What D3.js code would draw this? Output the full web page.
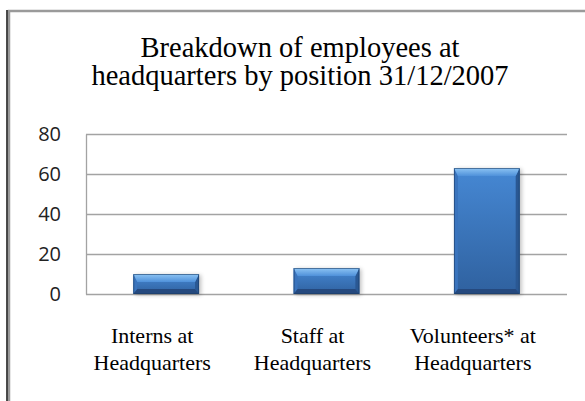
<!DOCTYPE html>
<html>
<head>
<meta charset="utf-8">
<script src="https://cdn.jsdelivr.net/npm/d3@7"></script>
<style>
  body { margin: 0; background: #fff; }
  svg { display: block; }
  .serif { font-family: 'Liberation Serif', 'Times New Roman', Times, serif; }
  .sans { font-family: 'Open Sans', 'Noto Sans', sans-serif; }
</style>
</head>
<body>
<svg id="chart" width="585" height="401"></svg>
<script>
'use strict';

var categories = [
  ['Interns at', 'Headquarters'],
  ['Staff at', 'Headquarters'],
  ['Volunteers* at', 'Headquarters']
];
var values = [10, 13, 63];
var yTicks = [0, 20, 40, 60, 80];
var titleLines = ['Breakdown of employees at', 'headquarters by position 31/12/2007'];

var svg = d3.select('#chart');
var margin = { top: 134, right: 18, bottom: 107, left: 86 };
var width = +svg.attr('width') - margin.left - margin.right,
    height = +svg.attr('height') - margin.top - margin.bottom;

// chart frame (only top and left edges show in the crop)
svg.append('rect')
  .attr('x', 9).attr('y', 11)
  .attr('width', 600).attr('height', 420)
  .attr('fill', 'none')
  .attr('stroke', '#9a9a9a')
  .attr('stroke-width', 2.5);
svg.append('line')
  .attr('x1', 7).attr('x2', 7)
  .attr('y1', 10).attr('y2', 401)
  .attr('stroke', '#111')
  .attr('stroke-width', 1.5);

var defs = svg.append('defs');
var body = defs.append('linearGradient').attr('id', 'barBody')
  .attr('x1', 0).attr('y1', 0).attr('x2', 0).attr('y2', 1);
body.append('stop').attr('offset', '0%').attr('stop-color', '#4688d4');
body.append('stop').attr('offset', '100%').attr('stop-color', '#2f619f');

var topBevel = defs.append('linearGradient').attr('id', 'barTop')
  .attr('x1', 0).attr('y1', 0).attr('x2', 0).attr('y2', 1);
topBevel.append('stop').attr('offset', '0%').attr('stop-color', '#8ec5f4');
topBevel.append('stop').attr('offset', '100%').attr('stop-color', '#4f91da');

var shadow = defs.append('filter').attr('id', 'shadow')
  .attr('x', '-20%').attr('y', '-20%').attr('width', '140%').attr('height', '140%');
shadow.append('feGaussianBlur').attr('stdDeviation', 2);

var g = svg.append('g').attr('transform', 'translate(' + margin.left + ',' + margin.top + ')');

var x = d3.scaleBand()
  .domain(d3.range(values.length))
  .range([0, width])
  .paddingInner(0.59)
  .paddingOuter(0.295);

var y = d3.scaleLinear().domain([0, 80]).range([height, 0]);

// gridlines
g.append('g')
  .attr('class', 'grid')
  .call(d3.axisLeft(y).tickValues(yTicks).tickSize(-width).tickFormat(''))
  .call(function (s) {
    s.select('.domain').remove();
    s.selectAll('line').attr('stroke', '#a3a3a3').attr('stroke-width', 1.3);
  });

// y axis labels
g.append('g')
  .attr('class', 'y axis')
  .call(d3.axisLeft(y).tickValues(yTicks).tickSize(0).tickPadding(25))
  .call(function (s) {
    s.attr('font-family', null).attr('font-size', null);
    s.select('.domain').attr('stroke', '#a3a3a3').attr('stroke-width', 1.3);
    s.selectAll('text')
      .attr('class', 'sans')
      .style('font-size', '20px')
      .attr('fill', '#222');
  });

// bars with a bevel look
var bars = g.selectAll('.bar')
  .data(values)
  .enter().append('g')
  .attr('class', 'bar');

var bt = 8, bs = 4, bb = 5;

bars.append('rect')
  .attr('x', function (d, i) { return x(i) + 2; })
  .attr('y', function (d) { return y(d) + 1; })
  .attr('width', x.bandwidth())
  .attr('height', function (d) { return y(0) - y(d); })
  .attr('fill', '#000')
  .attr('opacity', 0.25)
  .attr('filter', 'url(#shadow)');

bars.append('rect')
  .attr('x', function (d, i) { return x(i); })
  .attr('y', function (d) { return y(d); })
  .attr('width', x.bandwidth())
  .attr('height', function (d) { return y(0) - y(d); })
  .attr('fill', 'url(#barBody)');

function poly(pts) {
  return pts.map(function (p) { return p.join(','); }).join(' ');
}

bars.append('polygon') // left side
  .attr('points', function (d, i) {
    var x0 = x(i), y0 = y(d), y1 = y(0);
    return poly([[x0, y0], [x0 + bs, y0 + bt], [x0 + bs, y1 - bb], [x0, y1]]);
  })
  .attr('fill', '#3a74bd');

bars.append('polygon') // right side
  .attr('points', function (d, i) {
    var x1 = x(i) + x.bandwidth(), y0 = y(d), y1 = y(0);
    return poly([[x1, y0], [x1 - bs, y0 + bt], [x1 - bs, y1 - bb], [x1, y1]]);
  })
  .attr('fill', '#2a5893');

bars.append('polygon') // bottom
  .attr('points', function (d, i) {
    var x0 = x(i), x1 = x0 + x.bandwidth(), y1 = y(0);
    return poly([[x0, y1], [x0 + bs, y1 - bb], [x1 - bs, y1 - bb], [x1, y1]]);
  })
  .attr('fill', '#25497e');

bars.append('polygon') // top
  .attr('points', function (d, i) {
    var x0 = x(i), x1 = x0 + x.bandwidth(), y0 = y(d);
    return poly([[x0, y0], [x1, y0], [x1 - bs, y0 + bt], [x0 + bs, y0 + bt]]);
  })
  .attr('fill', 'url(#barTop)');

bars.append('rect') // thin dark edge
  .attr('x', function (d, i) { return x(i) + 0.5; })
  .attr('y', function (d) { return y(d) + 0.5; })
  .attr('width', x.bandwidth() - 1)
  .attr('height', function (d) { return y(0) - y(d) - 1; })
  .attr('fill', 'none')
  .attr('stroke', '#1d3d68')
  .attr('stroke-opacity', 0.6)
  .attr('stroke-width', 1);

// category labels
var labels = g.selectAll('.xlabel')
  .data(categories)
  .enter().append('text')
  .attr('class', 'xlabel serif')
  .attr('text-anchor', 'middle')
  .style('font-size', '22px')
  .attr('fill', '#000')
  .attr('transform', function (d, i) {
    return 'translate(' + (x(i) + x.bandwidth() / 2 - 14) + ',' + (height + 49) + ')';
  });

labels.selectAll('tspan')
  .data(function (d) { return d; })
  .enter().append('tspan')
  .attr('x', 0)
  .attr('dy', function (d, i) { return i ? 27 : 0; })
  .text(function (d) { return d; });

// title
svg.append('text')
  .attr('class', 'serif')
  .attr('text-anchor', 'middle')
  .style('font-size', '28.5px')
  .attr('fill', '#000')
  .attr('transform', 'translate(300,56.5)')
  .selectAll('tspan')
  .data(titleLines)
  .enter().append('tspan')
  .attr('x', 0)
  .attr('dy', function (d, i) { return i ? 28.5 : 0; })
  .text(function (d) { return d; });
</script>
</body>
</html>
